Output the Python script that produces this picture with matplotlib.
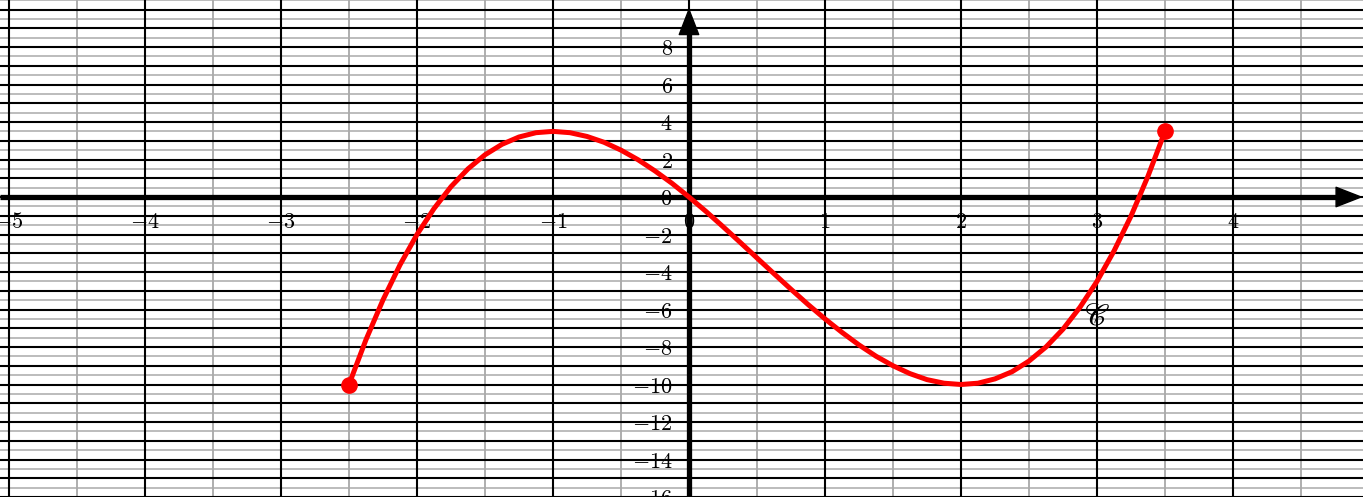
import numpy as np
import matplotlib
matplotlib.use('Agg')
from matplotlib import pyplot as plt

plt.rcParams['mathtext.fontset'] = 'cm'

# courbe C : points
curve_x = [-2.5, -2.375, -2.25, -2.125, -2.0, -1.875, -1.75, -1.625, -1.5,
           -1.375, -1.25, -1.125, -1.0, -0.875, -0.75, -0.625, -0.5, -0.375,
           -0.25, -0.125, 0.0, 0.125, 0.25, 0.375, 0.5, 0.625, 0.75, 0.875,
           1.0, 1.125, 1.25, 1.375, 1.5, 1.625, 1.75, 1.875, 2.0, 2.125, 2.25,
           2.375, 2.5, 2.625, 2.75, 2.875, 3.0, 3.125, 3.25, 3.375, 3.5]
curve_y = [-10.0, -7.61, -5.49, -3.62, -2.0, -0.62, 0.55, 1.5, 2.25,
           2.81, 3.2, 3.43, 3.5, 3.43, 3.23, 2.92, 2.5, 1.99,
           1.39, 0.73, 0.0, -0.77, -1.58, -2.41, -3.25, -4.09, -4.92, -5.73,
           -6.5, -7.22, -7.89, -8.49, -9.0, -9.42, -9.74, -9.93, -10.0, -9.93, -9.7,
           -9.32, -8.75, -8.0, -7.05, -5.88, -4.5, -2.88, -1.02, 1.11, 3.5]
end_x = [-2.5, 3.5]
end_y = [-10.0, 3.5]

x_ticks = [-5, -4, -3, -2, -1, 0, 1, 2, 3, 4]
y_ticks = [8, 6, 4, 2, 0, -2, -4, -6, -8, -10, -12, -14, -16]

xmin, xmax = -5.066, 4.956
ymin, ymax = -16.0, 10.507

fig = plt.figure(figsize=(13.63, 4.97), dpi=100)
ax = fig.add_axes([0, 0, 1, 1])
ax.set_xlim(xmin, xmax)
ax.set_ylim(ymin, ymax)
ax.axis('off')

# quadrillage
for v in np.arange(-5.5, 5.01, 0.5):
    if v == int(v):
        ax.axvline(v, color='black', lw=1.5, zorder=1)
    else:
        ax.axvline(v, color='#999999', lw=1.1, zorder=0.5)
for h in np.arange(-16, 11.01, 0.5):
    if h == int(h):
        ax.axhline(h, color='black', lw=1.5, zorder=1)
    else:
        ax.axhline(h, color='#aaaaaa', lw=1.1, zorder=0.5)

# axes
ax.plot([xmin, 4.8], [0, 0], color='black', lw=3.8, solid_capstyle='butt', zorder=3)
ax.plot([0, 0], [ymin, 9.3], color='black', lw=3.8, solid_capstyle='butt', zorder=3)
ax.annotate('', xy=(4.956, 0), xytext=(4.6, 0),
            arrowprops=dict(arrowstyle='-|>,head_length=1.8,head_width=0.7',
                            color='black', lw=1, shrinkA=0, shrinkB=0), zorder=4)
ax.annotate('', xy=(0, 10.1), xytext=(0, 8.5),
            arrowprops=dict(arrowstyle='-|>,head_length=1.8,head_width=0.7',
                            color='black', lw=1, shrinkA=0, shrinkB=0), zorder=4)

# graduations
for t in x_ticks:
    ax.text(t, -1.35, r'$%d$' % t, ha='center', va='center', fontsize=16, zorder=5)
for t in y_ticks:
    ax.text(-0.12, t - 0.12, r'$%d$' % t, ha='right', va='center', fontsize=16, zorder=5)

ax.plot(curve_x, curve_y, color='red', lw=3.6, zorder=6)
ax.plot(end_x, end_y, 'o', color='red', markersize=11, zorder=7)
ax.text(3.0, -6.35, r'$\mathscr{C}$', fontsize=22, ha='center', va='center',
        math_fontfamily='stix', zorder=7)

fig.savefig('out.png', dpi=100)
